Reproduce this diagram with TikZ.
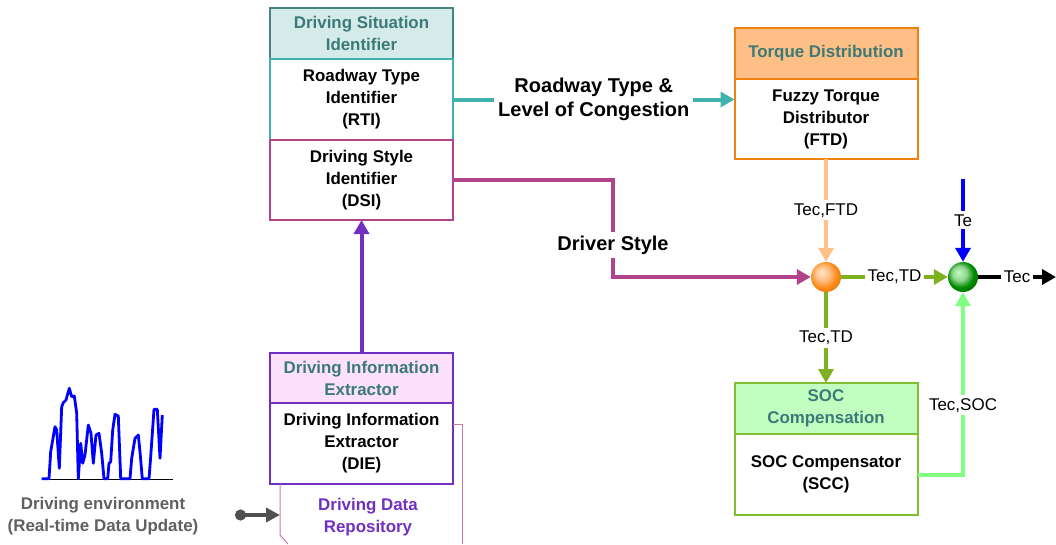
\documentclass[tikz,border=0pt]{standalone}
\usepackage{fontspec}
\setmainfont{Liberation Sans}
\usepackage{tikz}
\usetikzlibrary{positioning}
\usetikzlibrary{arrows.meta,shadings}
\definecolor{headtxt}{HTML}{3C7A78}
\definecolor{dsihead}{HTML}{D4EBEA}
\definecolor{dsiedge}{HTML}{4A8280}
\definecolor{rtiteal}{HTML}{3FB2AD}
\definecolor{dsimag}{HTML}{B0438A}
\definecolor{dieviolet}{HTML}{7030C0}
\definecolor{diehead}{HTML}{FCE0FC}
\definecolor{repoline}{HTML}{C878AE}
\definecolor{ftdorange}{HTML}{F0800F}
\definecolor{ftdhead}{HTML}{FDBF85}
\definecolor{ftdarrow}{HTML}{FFC08A}
\definecolor{socgreen}{HTML}{80C030}
\definecolor{sochead}{HTML}{C0FFC0}
\definecolor{tdolive}{HTML}{7FB020}
\definecolor{soclight}{HTML}{80FF80}
\definecolor{envgrey}{HTML}{505050}
\definecolor{envtxt}{HTML}{606060}
\pgfdeclareradialshading{tdball}{\pgfpoint{-8bp}{8bp}}{color(0bp)=(orange!20!white); color(12bp)=(ftdhead); color(22bp)=(orange!80!ftdhead); color(30bp)=(ftdorange!95!black); color(50bp)=(ftdorange!90!black)}
\pgfdeclareradialshading{tecball}{\pgfpoint{-8bp}{8bp}}{color(0bp)=(green!25!white); color(12bp)=(green!45!gray!60!white); color(22bp)=(green!55!black); color(30bp)=(green!45!black); color(50bp)=(green!40!black)}
\newcommand{\boxfont}[0]{\fontsize{16.9}{22}\selectfont\bfseries}
\newcommand{\bigfont}[0]{\fontsize{20}{23.5}\selectfont\bfseries}
\newcommand{\sigfont}[0]{\fontsize{17}{19}\selectfont}

\begin{document}
\begin{tikzpicture}[x=1pt, y=-1pt,
    headbox/.style={draw, line width=2pt, outer sep=0pt, minimum width=183pt, minimum height=51pt, align=center, font=\boxfont, text=headtxt},
    partbox/.style={draw, line width=2pt, outer sep=0pt, minimum width=183pt, minimum height=81pt, align=center, font=\boxfont, fill=white},
    flow/.style={line width=4pt, -{Triangle[length=14pt,width=15pt]}},
    sig/.style={fill=white, text=black, font=\sigfont, inner sep=3pt},
    bigsig/.style={fill=white, text=black, font=\bigfont, align=center, inner sep=4pt},
    sumball/.style={circle, minimum size=30pt, inner sep=0pt}]
      \useasboundingbox (0,0) rectangle (1056,544);

      \node(dsihd) [headbox, fill=dsihead, draw=dsiedge] at (361.5,33.5) {Driving Situation\\Identifier};
      \node(rti) [partbox, draw=rtiteal, below=0pt of dsihd] {Roadway Type\\Identifier\\(RTI)};
      \node(dsi) [partbox, draw=dsimag, minimum height=80pt, below=0pt of rti] {Driving Style\\Identifier\\(DSI)};
      \node(diehd) [headbox, fill=diehead, draw=dieviolet, minimum height=50pt] at (361.5,378) {Driving Information\\Extractor};
      \node(die) [partbox, draw=dieviolet, below=0pt of diehd] {Driving Information\\Extractor\\(DIE)};
      \node(ftdhd) [headbox, fill=ftdhead, draw=ftdorange] at (826,53.5) {Torque Distribution};
      \node(ftd) [partbox, draw=ftdorange, minimum height=80pt, below=0pt of ftdhd] {Fuzzy Torque\\Distributor\\(FTD)};
      \node(sochd) [headbox, fill=sochead, draw=socgreen] at (826,408.5) {SOC\\Compensation};
      \node(scc) [partbox, draw=socgreen, below=0pt of sochd] {SOC Compensator\\(SCC)};
      \node(sumtd) [sumball, shading=tdball] at (826,277) {};
      \node(sumtec) [sumball, shading=tecball] at (963,277) {};
      \node(repo) [font=\boxfont, text=dieviolet, align=center] at (368,517) {Driving Data\\Repository};
      \node(env) [font=\boxfont, text=envtxt, align=center] at (103,516) {Driving environment\\(Real-time Data Update)};
      \coordinate(tein) at (963,179);
      \coordinate(tecout) at (1056,277);
      \coordinate(envsrc) at (235,515);
      \coordinate(repoin) at (280,515);

      \draw[repoline, line width=1pt] (die.south west -| repoin) -- ++(0,51) -- ++(8,9);
      \draw[repoline, line width=1pt] (die.east |- 0,424) -- (462,424) -- (462,544);
      \draw[black, line width=1pt] (42,479) -- (173,479);
      \draw[blue, line width=2.8pt, line join=round] plot coordinates {(41.7,478.7) (49,478.7) (50.7,451.7) (55,426.7) (56.7,430) (59.3,468.3) (61.7,406.7) (63.3,402.7) (66,400) (69.3,388.3) (71.7,396.7) (74.3,396) (76.7,413.3) (78.3,478.7) (80.7,443.3) (82.7,463.3) (85,455) (88.3,425) (91,433.3) (93.3,463.3) (96,435) (99,433.3) (101.7,453.3) (104,478.7) (107.7,478.7) (109,463.3) (110.7,461.7) (112.7,430) (115,414.3) (118.3,416) (120.7,478.7) (130,478.7) (131.7,458.3) (135,438.3) (138.3,435) (140,451.7) (142.3,478.7) (149,478.7) (150.7,456.7) (154,409.3) (157.3,409.3) (160,458.3) (162.3,415)};

      \draw[flow, rtiteal] (rti.east) -- node[bigsig] {Roadway Type \&\\Level of Congestion} (rti.east -| ftd.west);
      \draw[flow, dsimag] (dsi.east) -| (613,245) node[bigsig] {Driver Style} |- (sumtd.west);
      \draw[flow, ftdarrow] (ftd.south) -- node[sig] {Tec,FTD} (sumtd.north);
      \draw[flow, tdolive] (sumtd.east) -- node[sig] {Tec,TD} (sumtec.west);
      \draw[flow, blue] (tein) -- node[sig] {Te} (sumtec.north);
      \draw[flow, black] (sumtec.east) -- node[sig] {Tec} (tecout);
      \draw[flow, tdolive] (sumtd.south) -- node[sig] {Tec,TD} (sochd.north);
      \draw[flow, soclight] (scc.east) -| node[sig, pos=0.69] {Tec,SOC} (sumtec.south);
      \draw[flow, dieviolet] (diehd.north) -- (dsi.south);
      \draw[envgrey, line width=3.5pt, {Circle[length=11pt]}-{Triangle[length=14pt,width=14pt]}] (envsrc) -- (repoin);
    \end{tikzpicture}
\end{document}
